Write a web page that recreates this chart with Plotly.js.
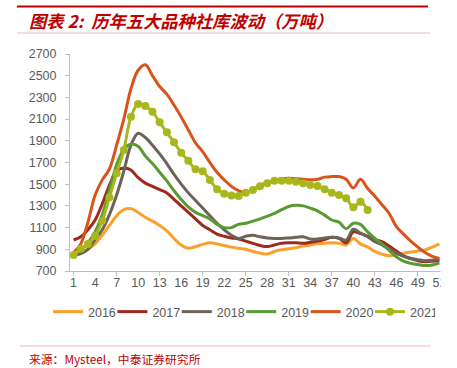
<!DOCTYPE html>
<html>
<head>
<meta charset="utf-8">
<script src="https://cdn.plot.ly/plotly-3.0.1.min.js"></script>
<style>html,body{margin:0;padding:0;background:#fff;}#chart{width:457px;height:368px;}</style>
</head>
<body>
<div id="chart"></div>
<script>
const weeks = [1,2,3,4,5,6,7,8,9,10,11,12,13,14,15,16,17,18,19,20,21,22,23,24,25,26,27,28,29,30,31,32,33,34,35,36,37,38,39,40,41,42,43,44,45,46,47,48,49,50,51,52];
const tickWeeks = [1,4,7,10,13,16,19,22,25,28,31,34,37,40,43,46,49,52];
const minorTickWeeks = [1,7,13,19,25,31,37,43,49];
const yTicks = [700,900,1100,1300,1500,1700,1900,2100,2300,2500,2700];

const s2016 = [857,870,900,950,1030,1120,1210,1265,1275,1240,1195,1160,1120,1070,1000,940,910,925,945,960,950,935,920,910,900,880,865,857,880,895,905,915,930,940,950,955,960,955,940,1000,950,920,880,855,840,850,865,875,885,895,920,950];
const s2017 = [986,1015,1080,1170,1320,1490,1620,1650,1630,1560,1510,1480,1450,1420,1360,1300,1240,1180,1120,1080,1040,1020,1005,995,975,955,935,925,940,955,960,960,955,965,975,990,1010,1000,960,1060,1045,1020,990,970,930,885,840,815,795,785,790,800];
const s2018 = [845,860,900,990,1080,1220,1400,1620,1860,1970,1930,1860,1780,1690,1590,1500,1420,1350,1280,1210,1140,1080,1030,1000,1020,1030,1015,1005,1000,1000,1005,1010,1015,995,995,1005,1010,1005,985,1085,1050,1015,970,940,900,865,835,815,805,795,800,810];
const s2019 = [850,890,960,1060,1220,1450,1680,1820,1870,1850,1760,1690,1610,1530,1440,1360,1290,1240,1210,1180,1130,1100,1100,1130,1140,1160,1180,1205,1230,1265,1295,1305,1300,1280,1255,1215,1170,1150,1090,1140,1130,1060,1000,950,890,830,790,770,760,750,755,775];
const s2020 = [870,950,1150,1400,1540,1640,1860,2100,2380,2550,2600,2500,2400,2330,2230,2120,2000,1880,1800,1700,1610,1540,1480,1440,1420,1450,1490,1510,1530,1550,1555,1550,1545,1540,1545,1565,1570,1570,1545,1465,1545,1460,1390,1310,1230,1110,1040,975,920,870,835,815];
const s2021 = [847,905,949,1023,1164,1380,1600,1815,2122,2239,2220,2168,2070,1978,1886,1790,1715,1637,1620,1539,1453,1413,1397,1391,1422,1447,1480,1508,1532,1532,1532,1523,1508,1493,1483,1453,1422,1400,1370,1287,1339,1262];

const names = ['2016','2017','2018','2019','2020','2021'];
const colors = ['#FBA12B','#9C2A1E','#6D6459','#5A9A32','#D9541A','#A8B81C'];
const seriesList = [s2016,s2017,s2018,s2019,s2020,s2021];

const traces = seriesList.map((s,i) => {
  const t = {
    type:'scatter',
    mode: i===5 ? 'lines+markers' : 'lines',
    name: names[i],
    x: weeks.slice(0, s.length),
    y: s,
    line:{color:colors[i], width:3, shape:'spline', smoothing:1},
    hoverinfo:'skip'
  };
  if (i===5) t.marker = {color:colors[i], size:8};
  return t;
});

const W = 457, H = 368, L = 70, R = 14, T = 54, B = 97;
const pw = W - L - R, ph = H - T - B;
const px = x => (x - L) / pw;
const py = y => (H - B - y) / ph;

const layout = {
  width: W, height: H,
  margin:{l:L, r:R, t:T, b:B, pad:0},
  paper_bgcolor:'#fff', plot_bgcolor:'#fff',
  font:{family:'Liberation Sans, Arial, sans-serif', size:12.5, color:'#595959'},
  showlegend:true,
  xaxis:{
    range:[0.5,52.5], tickmode:'array', tickvals:tickWeeks, ticktext:tickWeeks.map(String),
    ticks:'', showgrid:false, zeroline:false, showline:true, linecolor:'#BFBFBF', linewidth:1,
    tickfont:{size:12.5, color:'#595959'},
    minor:{tickmode:'array', tickvals:minorTickWeeks, ticks:'outside', ticklen:4, tickcolor:'#BFBFBF', tickwidth:1, showgrid:false}
  },
  yaxis:{
    range:[700,2700], tickmode:'array', tickvals:yTicks,
    ticks:'outside', ticklen:4, tickcolor:'#BFBFBF', showgrid:false, zeroline:false,
    showline:true, linecolor:'#BFBFBF', linewidth:1, ticklabelstandoff:6,
    tickfont:{size:12.5, color:'#595959'}
  },
  legend:{orientation:'h', x:px(48), xanchor:'left', y:py(297), yanchor:'top',
    font:{size:12.5, color:'#595959'}, itemwidth:30, entrywidth:19.4, entrywidthmode:'pixels',
    bgcolor:'rgba(0,0,0,0)'},
  shapes:[
    {type:'line', xref:'paper', yref:'paper', x0:px(17), x1:px(428), y0:py(6.5), y1:py(6.5), line:{color:'#C00000', width:2}},
    {type:'line', xref:'paper', yref:'paper', x0:px(17), x1:px(430), y0:py(33), y1:py(33), line:{color:'#F2B8B8', width:1}},
    {type:'line', xref:'paper', yref:'paper', x0:px(20), x1:px(431), y0:py(346), y1:py(346), line:{color:'#F2B8B8', width:1}},
    {type:'rect', xref:'paper', yref:'paper', layer:'above', x0:px(440.5), x1:px(457), y0:py(298), y1:py(40), fillcolor:'#fff', line:{width:0}}
  ],
  annotations:[
    {xref:'paper', yref:'paper', x:px(27), y:py(20.5), xanchor:'left', yanchor:'middle', showarrow:false,
     text:'<b><i>图表 2:  历年五大品种社库波动（万吨）</i></b>',
     font:{family:'Noto Sans CJK SC, sans-serif', size:17.3, color:'#C00000'}},
    {xref:'paper', yref:'paper', x:px(27), y:py(358.5), xanchor:'left', yanchor:'middle', showarrow:false,
     text:'来源：Mysteel，中泰证券研究所',
     font:{family:'Noto Sans CJK SC, sans-serif', size:11.8, color:'#C00000'}}
  ]
};

Plotly.newPlot('chart', traces, layout, {displayModeBar:false, staticPlot:true});
</script>
</body>
</html>
